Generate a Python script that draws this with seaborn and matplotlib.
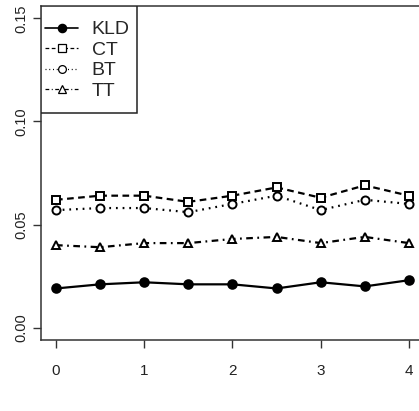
import matplotlib
matplotlib.use("Agg")
import matplotlib.pyplot as plt
import seaborn as sns
import numpy as np
import pandas as pd
from matplotlib.lines import Line2D
from matplotlib.patches import Rectangle

x_vals = [0, 0.5, 1, 1.5, 2, 2.5, 3, 3.5, 4]
kld = [0.019, 0.021, 0.022, 0.021, 0.021, 0.019, 0.022, 0.020, 0.023]
ct = [0.062, 0.064, 0.064, 0.061, 0.064, 0.068, 0.063, 0.069, 0.064]
bt = [0.057, 0.058, 0.058, 0.056, 0.060, 0.064, 0.057, 0.062, 0.060]
tt = [0.040, 0.039, 0.041, 0.041, 0.043, 0.044, 0.041, 0.044, 0.041]
series_names = ["KLD", "CT", "BT", "TT"]
y_ticks = [0.00, 0.05, 0.10, 0.15]
y_tick_labels = ["0.00", "0.05", "0.10", "0.15"]
x_ticks = [0, 1, 2, 3, 4]
x_tick_labels = ["0", "1", "2", "3", "4"]

sns.set_style("white")
plt.rcParams['font.family'] = ['Liberation Sans Narrow', 'Liberation Sans', 'DejaVu Sans']

W, H = 419, 411
fig = plt.figure(figsize=(W / 100, H / 100), dpi=100)
ax = fig.add_axes([41 / W, (H - 340) / H, (446 - 41) / W, (340 - 6) / H])

styles = {
    "KLD": dict(marker="o", markerfacecolor="black", linestyle="-", ms=6.2),
    "CT": dict(marker="s", markerfacecolor="white", linestyle=(0, (3, 2)), ms=5.6),
    "BT": dict(marker="o", markerfacecolor="white", linestyle=(0, (0.8, 2.2)), ms=5.8),
    "TT": dict(marker="^", markerfacecolor="white", linestyle=(0, (3, 2, 0.8, 2)), ms=6.2),
}
data = {"KLD": kld, "CT": ct, "BT": bt, "TT": tt}

handles = []
for name in series_names:
    st = styles[name]
    sns.lineplot(x=x_vals, y=data[name], ax=ax, color="black", linewidth=1.6,
                 marker=st["marker"], markerfacecolor=st["markerfacecolor"],
                 markeredgecolor="black", markeredgewidth=1.4, markersize=st["ms"],
                 linestyle=st["linestyle"], clip_on=False)
    handles.append(Line2D([0], [0], color="black",
                          linewidth=1.2 if name == "KLD" else 0.9,
                          marker=st["marker"], markerfacecolor=st["markerfacecolor"],
                          markeredgecolor="black", markeredgewidth=0.9,
                          markersize=st["ms"] - 0.2,
                          linestyle=st["linestyle"]))

ax.set_xlim(-0.17, 4.42)
ax.set_ylim(-0.006, 0.156)
ax.set_xticks(x_ticks)
ax.set_xticklabels(x_tick_labels, fontsize=11)
ax.set_yticks(y_ticks)
ax.set_yticklabels(y_tick_labels, fontsize=10.5, rotation=90, va="center")
ax.tick_params(axis="both", direction="out", length=5.5, width=1, color="#333333",
               labelcolor="#222222", bottom=True, left=True)
ax.tick_params(axis="x", pad=11.5)
ax.tick_params(axis="y", pad=3.5)
for sp in ax.spines.values():
    sp.set_visible(True)
    sp.set_color("#333333")
    sp.set_linewidth(1.1)

# legend box (R-style) and legend entries
box = Rectangle((41.3 / W, 1 - 113.3 / H), (137.3 - 41.3) / W, (113.3 - 5.7) / H,
                transform=fig.transFigure, facecolor="white", edgecolor="#222222",
                linewidth=1.1, zorder=4)
ax.add_patch(box)
leg = ax.legend(handles, series_names, loc="upper left",
                bbox_to_anchor=(45.3 / W, 1 - 20.8 / H),
                bbox_transform=fig.transFigure,
                borderaxespad=0, frameon=False, fontsize=14, handlelength=1.68,
                handletextpad=0.7, labelspacing=0.15, borderpad=0)
leg.set_zorder(5)

ax.set_xlabel("")
ax.set_ylabel("")
fig.savefig("out.png", dpi=100)
